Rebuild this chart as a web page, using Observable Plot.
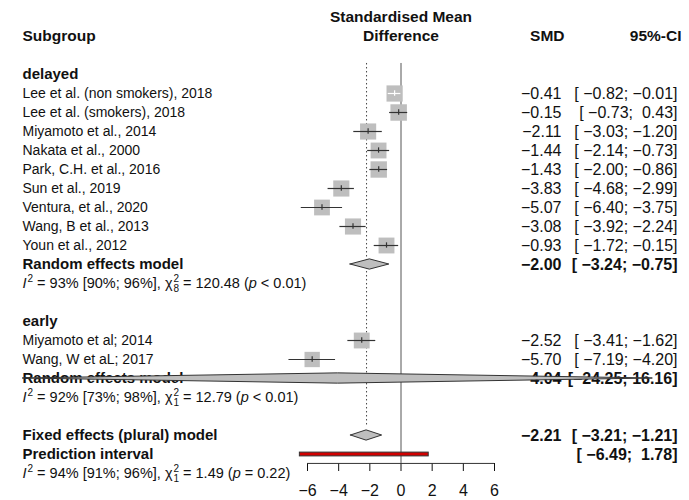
<!DOCTYPE html>
<html><head><meta charset="utf-8">
<script src="https://cdn.jsdelivr.net/npm/d3@7"></script>
<script src="https://cdn.jsdelivr.net/npm/@observablehq/plot@0.6"></script>
<style>body{margin:0;background:#fff} svg text{font-family:"Liberation Sans", Arial, sans-serif;}</style>
</head><body><div id="chart"></div>
<script>
// ---------- data ----------
const groupNames = ["delayed", "early"];
const studyLabels = [
  "Lee et al. (non smokers), 2018", "Lee et al. (smokers), 2018", "Miyamoto et al., 2014",
  "Nakata et al., 2000", "Park, C.H. et al., 2016", "Sun et al., 2019", "Ventura, et al., 2020",
  "Wang, B et al., 2013", "Youn et al., 2012",
  "Miyamoto et al; 2014", "Wang, W et aL; 2017"
];
const studyGroup = ["delayed","delayed","delayed","delayed","delayed","delayed","delayed","delayed","delayed","early","early"];
const studySMD   = [-0.41, -0.15, -2.11, -1.44, -1.43, -3.83, -5.07, -3.08, -0.93, -2.52, -5.70];
const studyLower = [-0.82, -0.73, -3.03, -2.14, -2.00, -4.68, -6.40, -3.92, -1.72, -3.41, -7.19];
const studyUpper = [-0.01,  0.43, -1.20, -0.73, -0.86, -2.99, -3.75, -2.24, -0.15, -1.62, -4.20];
const studyWeight = [9.3, 9.6, 9.2, 8.9, 9.5, 9.2, 8.8, 9.2, 8.9, 8.9, 8.3];
const reSMD   = [-2.00, -4.04];
const reLower = [-3.24, -24.25];
const reUpper = [-0.75, 16.16];
const hetI2   = ["93%", "92%", "94%"];
const hetI2lo = ["90%", "73%", "91%"];
const hetI2hi = ["96%", "98%", "96%"];
const hetDf   = [8, 1, 1];
const hetQ    = ["120.48", "12.79", "1.49"];
const hetP    = ["< 0.01", "< 0.01", "= 0.22"];
const fixedSMD = -2.21, fixedLower = -3.21, fixedUpper = -1.21;
const predLower = -6.49, predUpper = 1.78;
const xTicks = [-6, -4, -2, 0, 2, 4, 6];

// ---------- build rows ----------
const f2 = d3.format(".2f");
const pad6 = v => { const s = f2(v); return "\u00A0".repeat(Math.max(0, 6 - s.length)) + s; };
const ciText = (lo, hi) => "[" + pad6(lo) + ";" + pad6(hi) + "]";
const hetText = i => `I² = ${hetI2[i]} [${hetI2lo[i]}; ${hetI2hi[i]}], χ²${hetDf[i]} = ${hetQ[i]} (p ${hetP[i]})`;

const labelsNormal = [], labelsBold = [], numsNormal = [], numsBold = [], studies = [], diamonds = [], stats = [];
let k = 0;
groupNames.forEach((g, gi) => {
  labelsBold.push({k, text: g}); k++;
  studyLabels.forEach((lab, i) => {
    if (studyGroup[i] !== g) return;
    labelsNormal.push({k, text: lab});
    numsNormal.push({k, smd: f2(studySMD[i]), ci: ciText(studyLower[i], studyUpper[i])});
    studies.push({k, est: studySMD[i], lo: studyLower[i], hi: studyUpper[i], w: studyWeight[i]});
    k++;
  });
  labelsBold.push({k, text: "Random effects model"});
  numsBold.push({k, smd: f2(reSMD[gi]), ci: ciText(reLower[gi], reUpper[gi])});
  diamonds.push({k, est: reSMD[gi], lo: reLower[gi], hi: reUpper[gi]});
  k++;
  stats.push({k, text: hetText(gi), i: gi}); k++;
  k++; // blank
});
labelsBold.push({k, text: "Fixed effects (plural) model"});
numsBold.push({k, smd: f2(fixedSMD), ci: ciText(fixedLower, fixedUpper)});
diamonds.push({k, est: fixedSMD, lo: fixedLower, hi: fixedUpper});
const fixedRow = k;
k++;
labelsBold.push({k, text: "Prediction interval"});
numsBold.push({k, smd: "", ci: ciText(predLower, predUpper)});
const pred = [{k, lo: predLower, hi: predUpper}];
k++;
stats.push({k, text: hetText(2), i: 2});

// ---------- layout constants (pixels / row units) ----------
const H = 0.27;           // diamond half-height in rows
const AXIS_ROW = 20.47;   // row position of axis baseline
const TOP_ROW = -0.58;
const FONT = "'Liberation Sans', Arial, Helvetica, sans-serif";
const FS_LABEL = 14, FS_BOLD = 15, FS_NUM = 16, FS_HEAD = 15.5, FS_STAT = 14.5;

const diamondPts = diamonds.flatMap((d, id) => [
  {id, x: d.lo, y1: d.k, y2: d.k},
  {id, x: d.est, y1: d.k - H, y2: d.k + H},
  {id, x: d.hi, y1: d.k, y2: d.k}
]);
const boxSide = 1.0; // CI narrower than ~1 unit sits inside the box -> white line
const lineCol = d => (d.hi - d.lo) < boxSide ? "white" : "#333";
const T = (data, opts) => Plot.text(data, {fontFamily: FONT, ...opts});

const chart = Plot.plot({
  width: 689, height: 500,
  marginTop: 0, marginLeft: 0, marginRight: 0, marginBottom: 37,
  x: {domain: [-6, 6], range: [307, 494], ticks: xTicks, tickSize: 8, tickPadding: 13, label: null},
  y: {domain: [0, 21], range: [74, 473], axis: null},
  r: {type: "sqrt", domain: [0, 10], range: [0, 9.49]},
  style: {fontFamily: FONT, fontSize: "16px", background: "white", color: "#111", overflow: "visible"},
  marks: [
    // reference lines
    Plot.ruleX([0], {y1: TOP_ROW, y2: AXIS_ROW, stroke: "#555", strokeWidth: 1}),
    Plot.ruleX([fixedSMD], {y1: TOP_ROW, y2: fixedRow - 0.45, stroke: "#444", strokeDasharray: "1.5,2.5", strokeWidth: 1}),
    Plot.ruleY([AXIS_ROW], {x1: xTicks[0], x2: xTicks[xTicks.length - 1], stroke: "#333"}),
    // headers
    T(["Standardised Mean"], {x: 0, y: () => -3, text: d => d, fontWeight: "bold", fontSize: FS_HEAD}),
    T(["Difference"], {x: 0, y: () => -2, text: d => d, fontWeight: "bold", fontSize: FS_HEAD}),
    T(["Subgroup"], {frameAnchor: "left", dx: 22, y: () => -2, text: d => d, textAnchor: "start", fontWeight: "bold", fontSize: FS_HEAD}),
    T(["SMD"], {frameAnchor: "right", dx: -125, y: () => -2, text: d => d, textAnchor: "end", fontWeight: "bold", fontSize: FS_HEAD}),
    T(["95%-CI"], {frameAnchor: "right", dx: -8, y: () => -2, text: d => d, textAnchor: "end", fontWeight: "bold", fontSize: FS_HEAD}),
    // left labels
    T(labelsNormal, {frameAnchor: "left", dx: 22, y: "k", text: "text", textAnchor: "start", fontSize: FS_LABEL}),
    T(labelsBold, {frameAnchor: "left", dx: 22, y: "k", text: "text", textAnchor: "start", fontWeight: "bold", fontSize: FS_BOLD}),
    T(stats, {frameAnchor: "left", dx: 22, y: "k", text: "text", textAnchor: "start", fontSize: FS_STAT}),
    // right columns
    T(numsNormal, {frameAnchor: "right", dx: -128, y: "k", text: "smd", textAnchor: "end", fontSize: FS_NUM}),
    T(numsNormal, {frameAnchor: "right", dx: -12, y: "k", text: "ci", textAnchor: "end", fontSize: FS_NUM}),
    T(numsBold, {frameAnchor: "right", dx: -128, y: "k", text: "smd", textAnchor: "end", fontWeight: "bold", fontSize: FS_NUM}),
    T(numsBold, {frameAnchor: "right", dx: -12, y: "k", text: "ci", textAnchor: "end", fontWeight: "bold", fontSize: FS_NUM}),
    // study boxes and CIs
    Plot.dot(studies, {x: "est", y: "k", r: "w", symbol: "square", fill: "#bebebe", stroke: null}),
    Plot.ruleY(studies, {y: "k", x1: "lo", x2: "hi", stroke: lineCol, strokeWidth: 1.2}),
    Plot.ruleX(studies, {x: "est", y1: d => d.k - 0.14, y2: d => d.k + 0.14, stroke: lineCol, strokeWidth: 1.2}),
    // summary diamonds
    Plot.areaY(diamondPts, {x: "x", y1: "y1", y2: "y2", z: "id", fill: "#bebebe", stroke: "#333", strokeWidth: 1}),
    // prediction interval
    Plot.rect(pred, {x1: "lo", x2: "hi", y1: d => d.k - 0.1, y2: d => d.k + 0.1, fill: "#d00000", stroke: "#333", strokeWidth: 1})
  ]
});
document.getElementById("chart").appendChild(chart);

// typeset heterogeneity lines (italic I, p; stacked super/subscripts)
const ns = "http://www.w3.org/2000/svg";
const statByText = new Map(stats.map(s => [s.text, s.i]));
chart.querySelectorAll("text").forEach(t => {
  if (!statByText.has(t.textContent)) return;
  const i = statByText.get(t.textContent);
  t.textContent = "";
  const add = (txt, attrs = {}) => {
    const ts = document.createElementNS(ns, "tspan");
    ts.textContent = txt;
    for (const a in attrs) ts.setAttribute(a, attrs[a]);
    t.appendChild(ts);
  };
  add("I", {"font-style": "italic"});
  add("2", {"font-size": 10, dy: -6, dx: 1});
  add(` = ${hetI2[i]} [${hetI2lo[i]}; ${hetI2hi[i]}], χ`, {dy: 6});
  add("2", {"font-size": 10, dy: -6, dx: 1});
  add(String(hetDf[i]), {"font-size": 10, dy: 10, dx: -5.6});
  add(` = ${hetQ[i]} (`, {dy: -4});
  add("p", {"font-style": "italic"});
  add(` ${hetP[i]})`);
});
</script>
</body></html>
